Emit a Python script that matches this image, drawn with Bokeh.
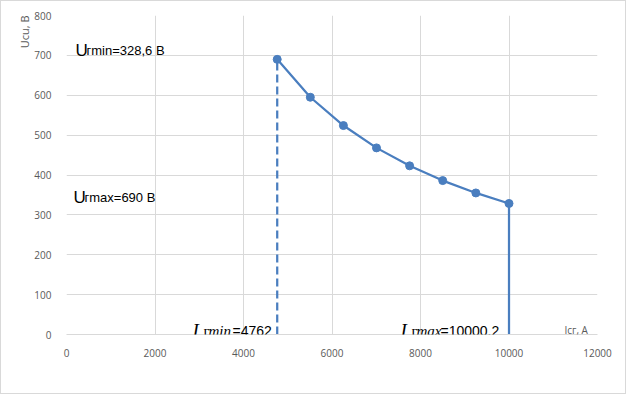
from bokeh.plotting import figure
from bokeh.models import Range1d, Label, FixedTicker, ColumnDataSource, Title
from bokeh.embed import file_html
from bokeh.resources import INLINE

# data
current = [4762, 5510, 6258, 7006, 7754, 8502, 9251, 10000.2]
voltage = [690, 595, 524, 468, 423, 386, 355, 328.6]
i_min, u_max = 4762, 690
i_max, u_min = 10000.2, 328.6
x_ticks = [0, 2000, 4000, 6000, 8000, 10000, 12000]
y_ticks = [0, 100, 200, 300, 400, 500, 600, 700, 800]

BLUE = "#4a7ebf"
GRID = "#d9d9d9"
TICK = "#595959"

p = figure(width=626, height=394, output_backend="svg", toolbar_location=None,
           x_range=Range1d(0, 12000), y_range=Range1d(0, 800),
           min_border_left=65, min_border_right=30, min_border_top=14, min_border_bottom=61)
p.styles = {"border": "1px solid #d9d9d9"}
p.outline_line_color = None
p.background_fill_color = "white"
p.border_fill_color = "white"

p.xaxis.ticker = FixedTicker(ticks=x_ticks)
p.yaxis.ticker = FixedTicker(ticks=y_ticks)
for ax in (p.xaxis[0], p.yaxis[0]):
    ax.major_tick_line_color = None
    ax.minor_tick_line_color = None
    ax.major_label_text_color = TICK
    ax.major_label_text_font = "Open Sans"
    ax.major_label_text_font_size = "10px"
p.xaxis.axis_line_color = GRID
p.yaxis.axis_line_color = None
p.xaxis.major_label_standoff = 8
p.yaxis.major_label_standoff = 9
p.xgrid.grid_line_color = GRID
p.ygrid.grid_line_color = GRID

src = ColumnDataSource(dict(x=current, y=voltage))
p.line("x", "y", source=src, line_color=BLUE, line_width=2.25)
p.scatter("x", "y", source=src, size=8, fill_color=BLUE, line_color=BLUE)
p.segment(x0=[i_min], y0=[0], x1=[i_min], y1=[u_max], line_color=BLUE, line_width=2.25, line_dash="8 4")
p.segment(x0=[i_max], y0=[0], x1=[i_max], y1=[u_min], line_color=BLUE, line_width=2.25)

# annotation placement helper: page pixel -> data coordinates
def dx(px):
    return (px - 66) * 12000 / 531
def dy(py):
    return (334 - py) * 800 / 319

def lab(px, py, text, size, font="Liberation Sans", style="normal", color="black", **kw):
    p.add_layout(Label(x=dx(px), y=dy(py), text=text, text_font=font,
                       text_font_size=size, text_font_style=style, text_color=color,
                       text_baseline="alphabetic", **kw))

# U labels
lab(75, 50, "U", "17px")
lab(86, 50, "гmin=328,6 В", "13px")
lab(73, 197, "U", "17px")
lab(84, 197, "гmax=690 В", "13px")
# I labels
lab(192, 330, "I", "19px", font="Liberation Serif", style="italic")
lab(203, 330, "г", "15px", font="Liberation Serif")
lab(208, 330, "min", "15px", font="Liberation Serif", style="italic")
lab(232, 330, "=4762", "14px")
lab(400, 330, "I", "19px", font="Liberation Serif", style="italic")
lab(411, 330, "г", "15px", font="Liberation Serif")
lab(416, 330, "max", "15px", font="Liberation Serif", style="italic")
lab(440, 330, "=10000,2", "14px")
# axis titles
lab(564, 329, "Iсг, А", "10px", font="Open Sans", color=TICK)
p.add_layout(Title(text="Ucu, В", align="right", text_font="Open Sans", text_font_size="11px",
                   text_font_style="normal", text_color=TICK, offset=0, standoff=0), "left")

open("out.html", "w").write(file_html(p, INLINE))
